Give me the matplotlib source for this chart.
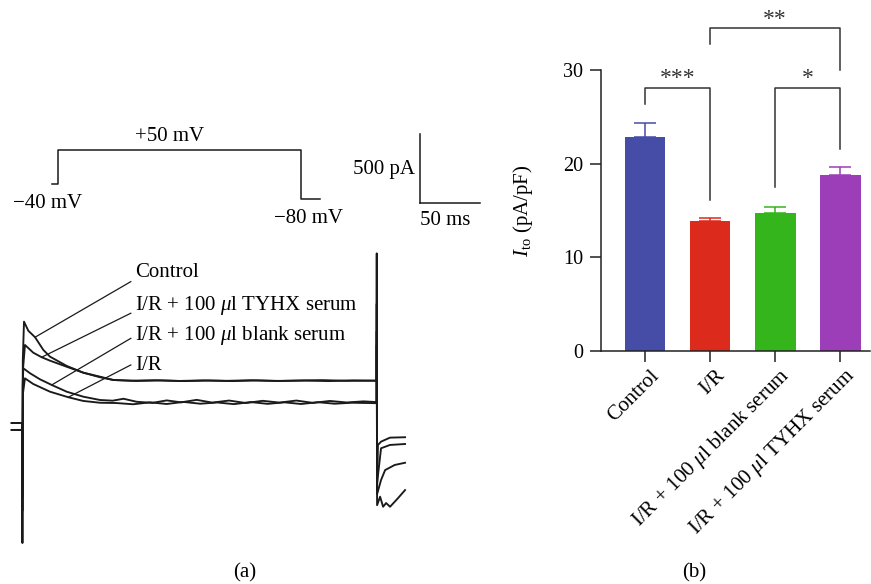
import numpy as np
import matplotlib
matplotlib.use("Agg")
import matplotlib.pyplot as plt

plt.rcParams['font.family'] = ['Liberation Serif', 'DejaVu Serif']
plt.rcParams['mathtext.fontset'] = 'custom'
plt.rcParams['mathtext.rm'] = 'Liberation Serif'
plt.rcParams['mathtext.it'] = 'Liberation Serif:italic'

# ---- panel (b) data
groups = ['Control', 'I/R', 'I/R + 100 $\\mu$l blank serum', 'I/R + 100 $\\mu$l TYHX serum']
ito_mean = [22.8, 13.9, 14.7, 18.8]
ito_err = [1.6, 0.3, 0.7, 0.8]
bar_colors = ['#464da6', '#dc2b1c', '#35b51c', '#9c3eb7']

# significance brackets: (left bar, right bar, top, left leg end, right leg end, label)
sig_left = [0, 2, 1]
sig_right = [1, 3, 3]
sig_top = [28.1, 28.1, 34.5]
sig_left_end = [26.4, 17.5, 32.8]
sig_right_end = [16.1, 21.6, 30.0]
sig_text = ['***', '*', '**']
sig_text_y = [29.1, 29.1, 35.4]

# ---- panel (a) data: voltage protocol (ms, mV)
proto_t = [-8, 0, 0, 300, 300, 323]
proto_v = [-40, -40, 50, 50, -80, -80]

# ---- panel (a) data: current traces (ms, pA)
t_ctrl = [-9.2, -0.4, -0.2, 0.1, 1.1, 4.7, 10.3, 17.2, 22.8, 36.7, 50.5, 64.4, 75.5,
          90, 110, 130, 150, 170, 190, 210, 230, 250, 270, 294.8, 295.0, 295.3, 296.0,
          298.6, 306, 318.6]
i_ctrl = [36, 36, -834, 493, 771, 705, 658, 566, 517, 450, 401, 368, 348,
          343, 346, 341, 345, 342, 346, 341, 344, 347, 342, 343, 1266, -450, -123,
          -99, -70, -67]

t_tyhx = [-9.2, -0.4, -0.2, 0.2, 1.9, 8.8, 15.8, 22.8, 36.7, 50.5, 64.4, 75.5,
          95, 115, 135, 155, 175, 195, 215, 235, 255, 275, 294.8, 295.0, 295.3,
          298.6, 306, 318.6]
i_tyhx = [36, 36, -500, 420, 602, 546, 513, 488, 444, 401, 372, 348,
          341, 345, 340, 344, 340, 345, 341, 344, 340, 345, 343, 900, -400,
          -147, -123, -116]

t_blank = [-9.2, -0.4, -0.2, 0.0, 0.5, 6.1, 14.4, 24.2, 36.7, 50.5, 64.4, 75, 84,
           95, 108, 120, 132, 145, 158, 172, 186, 200, 214, 228, 242, 256, 270, 284,
           294.8, 295.0, 295.3, 298.6, 302, 310, 318.6]
i_blank = [-14, -14, -600, 300, 433, 397, 353, 312, 263, 227, 203, 198, 212,
           190, 182, 200, 186, 204, 184, 199, 181, 197, 184, 199, 182, 196, 185, 193,
           188, 700, -480, -377, -305, -268, -252]

t_ir = [-9.2, -0.4, -0.2, 0.2, 1.9, 8.8, 22.8, 38.0, 50.5, 64.4, 78, 92, 106, 120,
        134, 148, 162, 176, 190, 204, 218, 232, 246, 260, 274, 294.8, 295.0, 295.3,
        297.8, 300.3, 302.8, 306.1, 312.8, 318.6]
i_ir = [-14, -14, -400, 250, 360, 319, 263, 223, 196, 183, 181, 172, 186, 174,
        189, 176, 185, 173, 188, 175, 186, 174, 187, 176, 183, 180, 600, -560,
        -498, -571, -544, -571, -508, -450]

trace_names = ['Control', 'I/R + 100 $\\mu$l TYHX serum', 'I/R + 100 $\\mu$l blank serum', 'I/R']
traces = [(t_ctrl, i_ctrl), (t_tyhx, i_tyhx), (t_blank, i_blank), (t_ir, i_ir)]
# where each label sits, and where its leader line meets the trace
label_t = [93.6, 93.6, 93.6, 93.6]
label_i = [1124, 887, 667, 450]
leader_start_i = [1061, 832, 650, 457]
leader_hit_t = [10.3, 15.8, 24.2, 38.0]

scale_ms = 50
scale_pA = 500

fs = 15
fig = plt.figure(figsize=(8.71, 5.84), dpi=100)

# ---------------- (a) current traces
ax_tr = fig.add_axes([0, 0.0411, 0.5626, 0.7877])
ax_tr.set_xlim(-18.9, 389.4)
ax_tr.set_ylim(-957, 2378)
ax_tr.axis('off')

for (tt, ii) in traces:
    ax_tr.plot(tt, ii, color='#1a1a1a', lw=1.35, solid_joinstyle='round')

for k in range(4):
    tt, ii = traces[k]
    hit_i = np.interp(leader_hit_t[k], tt, ii)
    ax_tr.plot([label_t[k] - 3.5, leader_hit_t[k]], [leader_start_i[k], hit_i],
               color='#1a1a1a', lw=0.9)
    ax_tr.text(label_t[k], label_i[k], trace_names[k], fontsize=fs,
               ha='left', va='center')

# scale bar
sb_t, sb_i = 331.1, 1631
ax_tr.plot([sb_t, sb_t], [sb_i + scale_pA, sb_i], color='#1a1a1a', lw=1.1)
ax_tr.plot([sb_t, sb_t + scale_ms], [sb_i, sb_i], color='#1a1a1a', lw=1.1)
ax_tr.text(sb_t - 4, sb_i + 240, f'{scale_pA} pA', fontsize=fs, ha='right', va='center')
ax_tr.text(sb_t + 21, sb_i - 130, f'{scale_ms} ms', fontsize=fs, ha='center', va='center')

# ---------------- (a) voltage protocol
ax_pr = fig.add_axes([0, 0.589, 0.5626, 0.2397])
ax_pr.set_xlim(-72.0, 533.0)
ax_pr.set_ylim(-189.3, 184.0)
ax_pr.axis('off')
ax_pr.plot(proto_t, proto_v, color='#1a1a1a', lw=1.1)
ax_pr.text(137.9, 88, '+50 mV', fontsize=fs, ha='center', va='center')
ax_pr.text(-12.7, -90.7, '\u221240 mV', fontsize=fs, ha='center', va='center')
ax_pr.text(309.5, -130.7, '\u221280 mV', fontsize=fs, ha='center', va='center')

# ---------------- (b) bar chart
ax = fig.add_axes([0.690, 0.399, 0.309, 0.481])
x = np.arange(len(groups))
ax.bar(x, ito_mean, width=0.626, color=bar_colors, zorder=2)
for k in range(len(groups)):
    ax.errorbar(x[k], ito_mean[k], yerr=[[0], [ito_err[k]]], fmt='none',
                ecolor=bar_colors[k], elinewidth=1.1, capsize=7.8, capthick=1.1, zorder=1)

ax.set_xlim(-0.677, 3.46)
ax.set_ylim(0, 30)
ax.set_yticks([0, 10, 20, 30])
ax.set_xticks(x)
ax.set_xticklabels([])
# rotated group names, end of each name just right of its tick
for k in range(len(groups)):
    ax.text(x[k] + 0.18, -0.078, groups[k], transform=ax.get_xaxis_transform(),
            rotation=45, ha='right', va='center', rotation_mode='anchor', fontsize=15.2)
ax.spines['top'].set_visible(False)
ax.spines['right'].set_visible(False)
for s in ['left', 'bottom']:
    ax.spines[s].set_linewidth(1.1)
    ax.spines[s].set_color('#222222')
ax.tick_params(axis='both', direction='out', length=8, width=1.1, color='#222222')
ax.tick_params(axis='y', labelsize=14.5, pad=5)
ax.set_ylabel('$I_{\\mathrm{to}}$ (pA/pF)', fontsize=fs, labelpad=20)

for k in range(len(sig_text)):
    a, b = x[sig_left[k]], x[sig_right[k]]
    ax.plot([a, a, b, b], [sig_left_end[k], sig_top[k], sig_top[k], sig_right_end[k]],
            color='#333333', lw=1.1, clip_on=False)
    ax.text((a + b) / 2, sig_text_y[k], sig_text[k], fontsize=17, ha='center',
            va='center', color='#333333')

fig.text(0.2813, 0.0188, '(a)', fontsize=fs, ha='center', va='center')
fig.text(0.7968, 0.0188, '(b)', fontsize=fs, ha='center', va='center')

fig.savefig('out.png', dpi=100)
